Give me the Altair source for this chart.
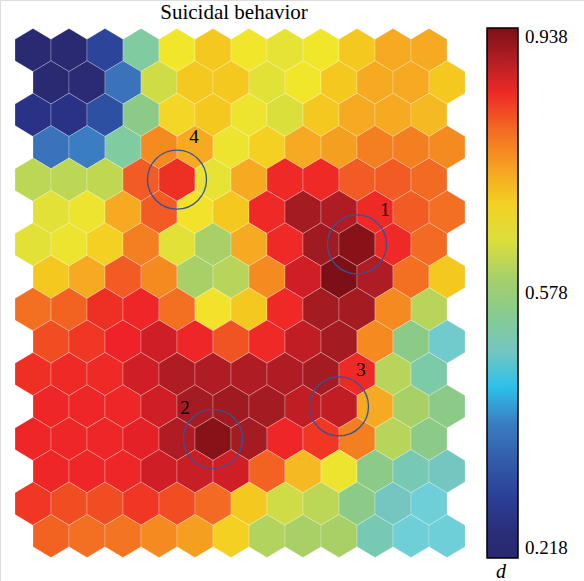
import altair as alt
import pandas as pd

# SOM component plane values (d), 16 rows x 12 columns, row 0 at top
values = [
    [0.23, 0.23, 0.31, 0.53, 0.67, 0.71, 0.67, 0.66, 0.67, 0.71, 0.74, 0.74],
    [0.23, 0.235, 0.39, 0.64, 0.71, 0.71, 0.655, 0.67, 0.71, 0.74, 0.74, 0.71],
    [0.27, 0.27, 0.33, 0.56, 0.69, 0.71, 0.665, 0.65, 0.71, 0.74, 0.74, 0.725],
    [0.39, 0.40, 0.53, 0.77, 0.74, 0.665, 0.70, 0.74, 0.75, 0.78, 0.78, 0.77],
    [0.62, 0.62, 0.625, 0.81, 0.84, 0.66, 0.74, 0.85, 0.85, 0.81, 0.81, 0.80],
    [0.655, 0.665, 0.74, 0.81, 0.675, 0.71, 0.85, 0.905, 0.895, 0.85, 0.81, 0.795],
    [0.655, 0.665, 0.70, 0.78, 0.655, 0.60, 0.74, 0.85, 0.91, 0.93, 0.85, 0.80],
    [0.71, 0.74, 0.81, 0.77, 0.60, 0.615, 0.77, 0.875, 0.938, 0.895, 0.795, 0.71],
    [0.795, 0.805, 0.84, 0.855, 0.795, 0.675, 0.71, 0.85, 0.905, 0.905, 0.77, 0.615],
    [0.82, 0.835, 0.86, 0.875, 0.855, 0.815, 0.85, 0.885, 0.905, 0.77, 0.56, 0.49],
    [0.84, 0.85, 0.85, 0.875, 0.895, 0.895, 0.895, 0.895, 0.905, 0.85, 0.615, 0.52],
    [0.855, 0.855, 0.855, 0.875, 0.905, 0.91, 0.905, 0.885, 0.885, 0.74, 0.60, 0.56],
    [0.855, 0.855, 0.855, 0.865, 0.895, 0.93, 0.905, 0.855, 0.835, 0.78, 0.615, 0.56],
    [0.855, 0.855, 0.855, 0.875, 0.88, 0.875, 0.805, 0.725, 0.665, 0.56, 0.51, 0.50],
    [0.835, 0.82, 0.82, 0.835, 0.82, 0.80, 0.71, 0.64, 0.62, 0.56, 0.50, 0.48],
    [0.805, 0.795, 0.79, 0.77, 0.75, 0.70, 0.61, 0.60, 0.60, 0.51, 0.48, 0.48],
]

# colormap stops (jet-like) and colorbar labels
cmap_values = [0.218, 0.25, 0.28, 0.32, 0.39, 0.42, 0.45, 0.48, 0.50, 0.52, 0.56,
               0.60, 0.64, 0.67, 0.71, 0.74, 0.77, 0.80, 0.84, 0.86, 0.875, 0.895,
               0.915, 0.938]
cmap_colors = ["#2a2870", "#2b2c78", "#2a3590", "#2c4a9e", "#3a73ba", "#3a90d0",
               "#2cc0ea", "#6ecfd8", "#74c7c0", "#7ccba8", "#8ccb87", "#a8d066",
               "#cfdc45", "#f2e62b", "#f5c820", "#f5aa22", "#f58a20", "#f36a22",
               "#ee3024", "#ee2228", "#d01e26", "#b01c24", "#9a1a20", "#7d1016"]
bar_labels = [0.218, 0.578, 0.938]

# highlighted units: (row, col, label)
marked_rows = [6, 12, 11, 4]
marked_cols = [9, 5, 8, 4]
marked_labels = ["1", "2", "3", "4"]
label_offsets = [(28, -34), (-28, -31), (22, -36), (17, -43)]

title = "Suicidal behavior"

W, H = 584, 581
px_x, x0 = 36.0, 33.0      # pixels per column, centre of first column
px_y, y0 = 32.4, 50.0      # pixels per row, centre of first row

rows = []
for r, row in enumerate(values):
    for c, v in enumerate(row):
        rows.append({"gx": c + 0.5 * (r % 2), "gy": r, "d": v})
df = pd.DataFrame(rows)

marks = pd.DataFrame({
    "gx": [c + 0.5 * (r % 2) for r, c in zip(marked_rows, marked_cols)],
    "gy": marked_rows,
    "lab": marked_labels,
})

xs = alt.Scale(domain=[-x0 / px_x, (W - x0) / px_x], nice=False, zero=False)
ys = alt.Scale(domain=[-y0 / px_y, (H - y0) / px_y], nice=False, zero=False, reverse=True)
X = alt.X("gx:Q", scale=xs, axis=None)
Y = alt.Y("gy:Q", scale=ys, axis=None)

hex_path = "M0,-1L0.8333,-0.5L0.8333,0.5L0,1L-0.8333,0.5L-0.8333,-0.5Z"

color = alt.Color(
    "d:Q",
    scale=alt.Scale(domain=cmap_values, range=cmap_colors, interpolate="rgb"),
    legend=alt.Legend(
        orient="none", legendX=487, legendY=28, direction="vertical",
        gradientLength=530, gradientThickness=31,
        gradientStrokeColor="black", gradientStrokeWidth=1.5,
        values=bar_labels, format=".3f", title=None,
        labelFont="Liberation Serif", labelFontSize=19, labelColor="black",
        labelBaseline="middle", labelOffset=7, labelOverlap=False,
        padding=0, offset=0,
    ),
)

hexes = alt.Chart(df).mark_point(
    shape=hex_path, filled=True, size=43.2 ** 2, opacity=1,
    stroke="white", strokeWidth=0.7, strokeOpacity=0.35,
).encode(x=X, y=Y, color=color)

circles = alt.Chart(marks).mark_point(
    shape="circle", filled=False, size=59 ** 2, color="#34529e", strokeWidth=1.3, opacity=1,
).encode(x=X, y=Y)

layers = [hexes, circles]
for lab, (dx, dy) in zip(marked_labels, label_offsets):
    layers.append(
        alt.Chart(marks).transform_filter(alt.datum.lab == lab).mark_text(
            font="Liberation Serif", fontSize=19, color="black", dx=dx, dy=dy,
            align="center", baseline="middle",
        ).encode(x=X, y=Y, text="lab:N")
    )

title_mark = alt.Chart(pd.DataFrame({"t": [title]})).mark_text(
    font="Liberation Serif", fontSize=21, color="black", align="center", baseline="alphabetic",
).encode(x=alt.value(234), y=alt.value(19), text="t:N")

d_mark = alt.Chart(pd.DataFrame({"t": ["d"]})).mark_text(
    font="Liberation Serif", fontSize=20, fontStyle="italic", color="black",
    align="center", baseline="middle",
).encode(x=alt.value(501), y=alt.value(572), text="t:N")

tick_l = alt.Chart(pd.DataFrame({"a": [0]})).mark_rule(color="black", strokeWidth=1).encode(
    x=alt.value(487), x2=alt.value(492), y=alt.value(293))
tick_r = alt.Chart(pd.DataFrame({"a": [0]})).mark_rule(color="black", strokeWidth=1).encode(
    x=alt.value(513), x2=alt.value(518), y=alt.value(293))

chart = alt.layer(*layers, title_mark, d_mark, tick_l, tick_r).properties(
    width=W, height=H, padding=0, autosize=alt.AutoSizeParams(type="none"),
).configure_view(stroke=None).configure(background="white")

chart.save("out.html", embed_options={"renderer": "svg", "actions": False})
